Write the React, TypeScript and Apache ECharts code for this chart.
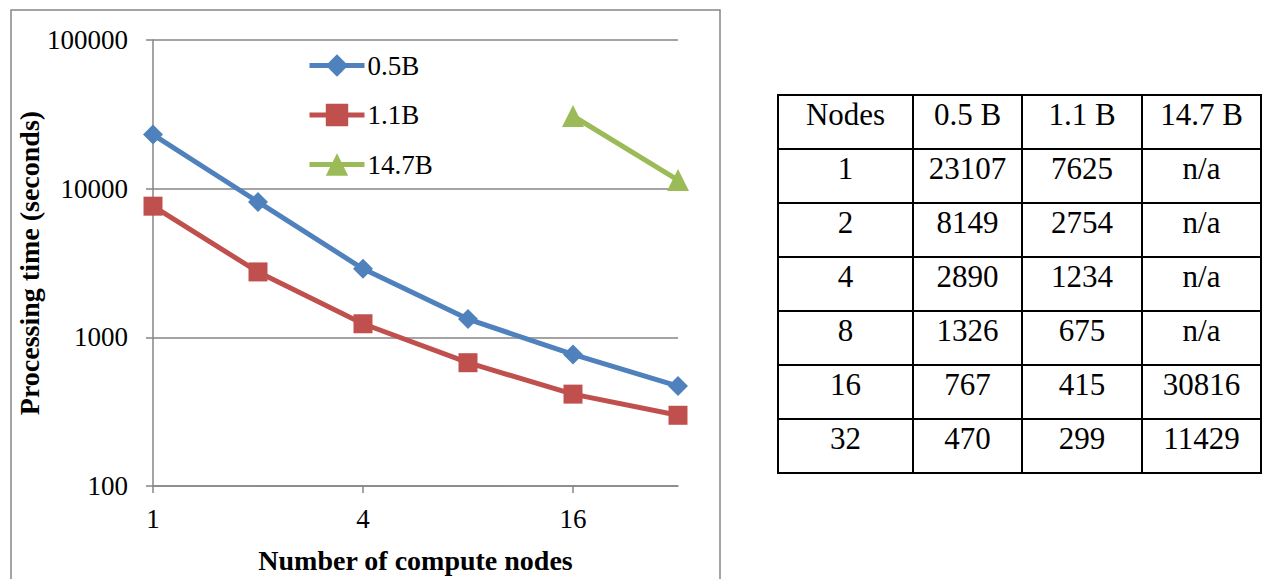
import React, { useEffect, useRef } from "react";
import * as echarts from "echarts";

// ---------- data ----------
const nodes = [1, 2, 4, 8, 16, 32];
const time05 = [23107, 8149, 2890, 1326, 767, 470];
const time11 = [7625, 2754, 1234, 675, 415, 299];
const time147: (number | null)[] = [null, null, null, null, 30816, 11429];
const seriesNames = ["0.5B", "1.1B", "14.7B"];
const tableHeaders = ["Nodes", "0.5 B", "1.1 B", "14.7 B"];
const xTickLabels = [1, 4, 16];
const yMin = 100;
const yMax = 100000;
const xMin = 1;
const xMax = 32;

// ---------- styles / layout ----------
const FONT = "Liberation Serif";
const GRAY = "#868686";
const COLORS = ["#4F81BD", "#C0504D", "#9BBB59"];
const SYMBOLS = ["diamond", "rect", "triangle"];
const SYMBOL_SIZES = [20, 19, 22];

const TABLE_COLS = [778, 913, 1022, 1142, 1261];
const TABLE_TOP = 95;
const TABLE_ROW_H = 54;

function pairs(vals: (number | null)[]) {
  const out: [number, number][] = [];
  vals.forEach((v, i) => {
    if (v !== null) out.push([nodes[i], v]);
  });
  return out;
}

function buildTable() {
  const rows: string[][] = [tableHeaders];
  nodes.forEach((n, i) => {
    rows.push([
      String(n),
      String(time05[i]),
      String(time11[i]),
      time147[i] === null ? "n/a" : String(time147[i]),
    ]);
  });
  const els: any[] = [];
  const bottom = TABLE_TOP + rows.length * TABLE_ROW_H;
  for (let r = 0; r <= rows.length; r++) {
    const y = TABLE_TOP + r * TABLE_ROW_H;
    els.push({
      type: "line",
      shape: { x1: TABLE_COLS[0] - 1, y1: y, x2: TABLE_COLS[TABLE_COLS.length - 1] + 1, y2: y },
      style: { stroke: "#000", lineWidth: 2 },
    });
  }
  TABLE_COLS.forEach((x) => {
    els.push({
      type: "line",
      shape: { x1: x, y1: TABLE_TOP, x2: x, y2: bottom },
      style: { stroke: "#000", lineWidth: 2 },
    });
  });
  rows.forEach((row, r) => {
    row.forEach((cell, c) => {
      els.push({
        type: "text",
        x: (TABLE_COLS[c] + TABLE_COLS[c + 1]) / 2,
        y: TABLE_TOP + r * TABLE_ROW_H + 19,
        style: {
          text: cell,
          fontFamily: FONT,
          fontSize: 31,
          fill: "#000",
          align: "center",
          verticalAlign: "middle",
        },
      });
    });
  });
  return els;
}

export default function App() {
  const ref = useRef<HTMLDivElement>(null);
  useEffect(() => {
    if (!ref.current) return;
    const chart = echarts.init(ref.current, undefined, { renderer: "svg" });
    const seriesData = [pairs(time05), pairs(time11), pairs(time147)];
    chart.setOption({
      animation: false,
      backgroundColor: "#fff",
      textStyle: { fontFamily: FONT },
      grid: { left: 153, top: 40, right: 1262 - 678, bottom: 579 - 487, containLabel: false },
      legend: {
        orient: "vertical",
        left: 307,
        top: 52,
        padding: 0,
        itemWidth: 55,
        itemHeight: 28,
        itemGap: 22.5,
        data: seriesNames,
        lineStyle: { width: 5 },
        textStyle: { fontFamily: FONT, fontSize: 27, color: "#000", padding: [0, 0, 0, -2] },
      },
      xAxis: {
        type: "log",
        logBase: 4,
        min: xMin,
        max: xMax,
        name: "Number of compute nodes",
        nameLocation: "middle",
        nameGap: 60,
        nameTextStyle: { fontFamily: FONT, fontSize: 28, fontWeight: "bold", color: "#000" },
        axisLine: { show: true, lineStyle: { color: GRAY, width: 1.5 } },
        axisTick: { show: true, length: 7, customValues: xTickLabels, lineStyle: { color: GRAY, width: 1.5 } },
        axisLabel: {
          margin: 19,
          fontFamily: FONT,
          fontSize: 27,
          color: "#000",
          customValues: xTickLabels,
          formatter: (v: number) => String(Math.round(v)),
        },
        splitLine: { show: false },
      },
      yAxis: {
        type: "log",
        logBase: 10,
        min: yMin,
        max: yMax,
        name: "Processing time (seconds)",
        nameLocation: "middle",
        nameGap: 106,
        nameTextStyle: { fontFamily: FONT, fontSize: 28, fontWeight: "bold", color: "#000" },
        axisLine: { show: true, lineStyle: { color: GRAY, width: 1.5 } },
        axisTick: { show: true, length: 7, lineStyle: { color: GRAY, width: 1.5 } },
        axisLabel: {
          margin: 25,
          fontFamily: FONT,
          fontSize: 27,
          color: "#000",
          formatter: (v: number) => String(Math.round(v)),
        },
        splitLine: { show: true, lineStyle: { color: GRAY, width: 1.5 } },
      },
      series: seriesNames.map((name, i) => ({
        name,
        type: "line",
        data: seriesData[i],
        symbol: SYMBOLS[i],
        symbolSize: SYMBOL_SIZES[i],
        showAllSymbol: true,
        clip: false,
        color: COLORS[i],
        lineStyle: { color: COLORS[i], width: 5 },
        itemStyle: { color: COLORS[i] },
      })),
      graphic: [
        {
          type: "rect",
          shape: { x: 11, y: 10, width: 709, height: 620 },
          style: { fill: "none", stroke: GRAY, lineWidth: 1.5 },
          z: -1,
        },
        ...buildTable(),
      ],
    });
    return () => chart.dispose();
  }, []);
  return (
    <div
      ref={ref}
      style={{ position: "absolute", left: 0, top: 0, width: 1262, height: 579 }}
    />
  );
}
